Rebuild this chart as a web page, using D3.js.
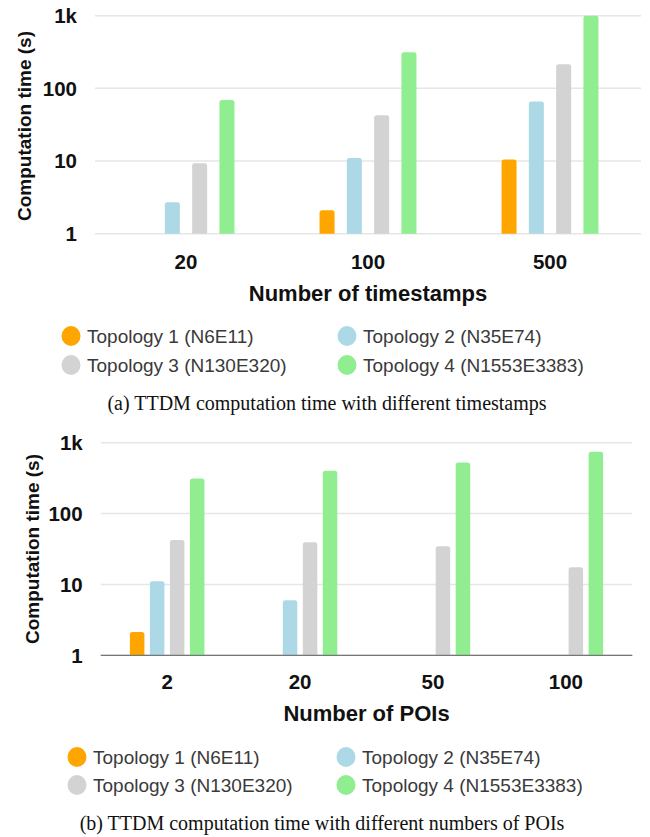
<!DOCTYPE html>
<html lang="en">

<head>
    <meta charset="UTF-8">
    <title>TTDM computation time</title>
    <script src="https://d3js.org/d3.v7.min.js"></script>
    <style>
        body { margin: 0; background: #fff; }
        svg { display: block; }
        .tick-label { font-family: "Liberation Sans", Arial, sans-serif; font-weight: bold; font-size: 20.5px; fill: #111; }
        .axis-title { font-family: "Liberation Sans", Arial, sans-serif; font-weight: bold; fill: #111; }
        .legend-text { font-family: "Liberation Sans", Arial, sans-serif; font-size: 19px; fill: #3a3a3a; }
        .caption { font-family: "Liberation Serif", "Times New Roman", serif; font-size: 20px; fill: #111; }
    </style>
</head>

<body>
    <svg id="chart" width="650" height="837"></svg>

<script>
    // data
    const seriesNames = ['Topology 1 (N6E11)', 'Topology 2 (N35E74)', 'Topology 3 (N130E320)', 'Topology 4 (N1553E3383)'];
    const seriesColors = ['#ffa500', '#add8e6', '#d3d3d3', '#90ee90'];

    const yTicks = [1, 10, 100, 1000];
    const yTickLabels = ['1', '10', '100', '1k'];

    const timestampCats = ['20', '100', '500'];
    // one row per category, one value per topology (null = no bar)
    const timestampVals = [
        [null, 2.7, 9.3, 69],
        [2.1, 11, 42.5, 313],
        [10.5, 66, 214, 1000]
    ];

    const poiCats = ['2', '20', '50', '100'];
    const poiVals = [
        [2.13, 11.1, 42.5, 312],
        [null, 6.0, 39.5, 401],
        [null, null, 34.6, 525],
        [null, null, 17.5, 743]
    ];

    const svg = d3.select('#chart');

    // bar with rounded top corners
    const barPath = (x, y, w, h, r) => {
        r = Math.min(r, h / 2, w / 2);
        return `M${x},${y + h} L${x},${y + r} Q${x},${y} ${x + r},${y} L${x + w - r},${y} Q${x + w},${y} ${x + w},${y + r} L${x + w},${y + h} Z`;
    }

    const drawPanel = (cfg) => {
        const g = svg.append('g');

        const x0 = d3.scaleBand().domain(cfg.cats).range([cfg.left, cfg.right]);
        const x1 = d3.scaleBand().domain(d3.range(seriesNames.length))
            .range([0, cfg.groupW]).padding(cfg.barPad);
        const y = d3.scaleLog().domain([1, 1000]).range([cfg.yBottom, cfg.yTop]);

        // gridlines
        g.selectAll('.grid')
            .data(yTicks)
            .join('line')
            .attr('x1', cfg.left).attr('x2', cfg.right)
            .attr('y1', d => y(d)).attr('y2', d => y(d))
            .attr('stroke', '#e6e6e6')
            .attr('stroke-width', 1.5);

        // y tick labels
        g.selectAll('.ylab')
            .data(yTicks)
            .join('text')
            .attr('class', 'tick-label')
            .attr('x', cfg.left - 18)
            .attr('y', d => y(d))
            .attr('dy', '0.36em')
            .attr('text-anchor', 'end')
            .text((d, i) => yTickLabels[i]);

        // bars
        const groups = g.selectAll('.grp')
            .data(cfg.vals)
            .join('g')
            .attr('transform', (d, i) => `translate(${x0(cfg.cats[i]) + (x0.bandwidth() - cfg.groupW) / 2},0)`);

        groups.selectAll('path')
            .data(d => d.map((v, s) => ({ v, s })).filter(e => e.v != null))
            .join('path')
            .attr('fill', d => seriesColors[d.s])
            .attr('d', d => barPath(x1(d.s), y(d.v), x1.bandwidth(), y(1) - y(d.v), 2.5));

        if (cfg.baseColor) {
            g.append('line')
                .attr('x1', cfg.left).attr('x2', cfg.right)
                .attr('y1', y(1)).attr('y2', y(1))
                .attr('stroke', cfg.baseColor)
                .attr('stroke-width', 1.2);
        }

        // x tick labels
        g.selectAll('.xlab')
            .data(cfg.cats)
            .join('text')
            .attr('class', 'tick-label')
            .attr('x', d => x0(d) + x0.bandwidth() / 2)
            .attr('y', cfg.xLabY)
            .attr('text-anchor', 'middle')
            .text(d => d);

        // axis titles
        g.append('text')
            .attr('class', 'axis-title')
            .attr('font-size', '22px')
            .attr('x', (cfg.left + cfg.right) / 2)
            .attr('y', cfg.xTitleY)
            .attr('text-anchor', 'middle')
            .text(cfg.xTitle);

        g.append('text')
            .attr('class', 'axis-title')
            .attr('font-size', '19px')
            .attr('transform', `translate(${cfg.yTitleX},${cfg.yTitleY}) rotate(-90)`)
            .attr('text-anchor', 'middle')
            .text('Computation time (s)');

        // legend
        const leg = g.selectAll('.leg')
            .data(seriesNames)
            .join('g')
            .attr('transform', (d, i) => `translate(${cfg.legCols[i % 2]},${cfg.legRows[Math.floor(i / 2)]})`);
        leg.append('ellipse')
            .attr('rx', 9.5).attr('ry', 10)
            .attr('fill', (d, i) => seriesColors[i]);
        leg.append('text')
            .attr('class', 'legend-text')
            .attr('x', 16)
            .attr('dy', '0.36em')
            .text(d => d);

        // caption
        g.append('text')
            .attr('class', 'caption')
            .attr('x', cfg.capX)
            .attr('y', cfg.capY)
            .attr('text-anchor', 'middle')
            .text(cfg.caption);
    }

    drawPanel({
        cats: timestampCats, vals: timestampVals,
        left: 95, right: 641, yTop: 15.7, yBottom: 233.7,
        groupW: 121.5, barPad: 0.45,
        xLabY: 268.5, xTitle: 'Number of timestamps', xTitleY: 301,
        yTitleX: 31, yTitleY: 126,
        legCols: [71, 347], legRows: [336, 365],
        caption: '(a) TTDM computation time with different timestamps', capX: 327, capY: 410
    });

    drawPanel({
        cats: poiCats, vals: poiVals,
        left: 100.7, right: 632.3, yTop: 442.7, yBottom: 655.3,
        groupW: 85.5, barPad: 0.275, baseColor: '#777',
        xLabY: 689, xTitle: 'Number of POIs', xTitleY: 721,
        yTitleX: 39, yTitleY: 549,
        legCols: [77, 346], legRows: [757, 785],
        caption: '(b) TTDM computation time with different numbers of POIs', capX: 322, capY: 830
    });
</script>
</body>

</html>
